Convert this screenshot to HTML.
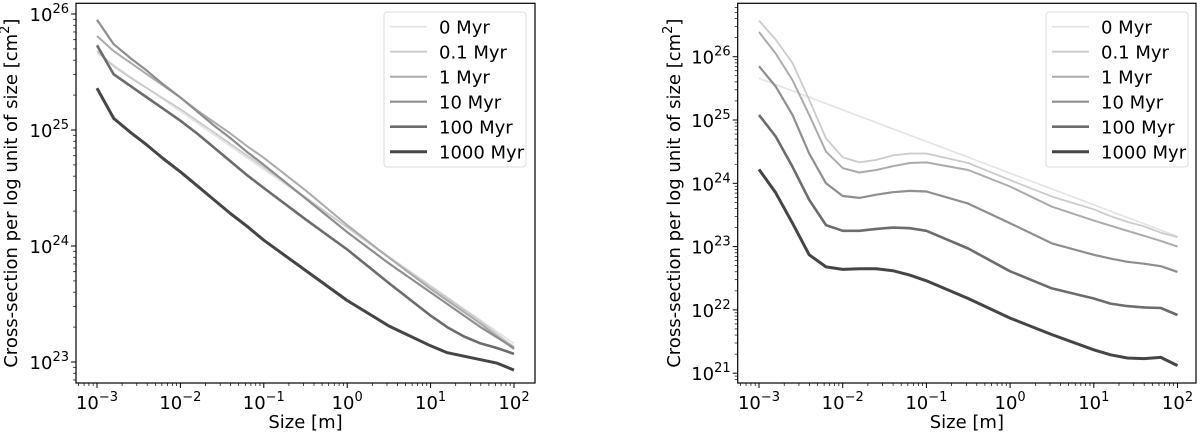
<!DOCTYPE html>
<html><head><meta charset="utf-8"><style>
html,body{margin:0;padding:0;background:#fff;}
svg{display:block;font-family:"DejaVu Sans","Liberation Sans",sans-serif;}
</style></head><body>
<svg id="fig" width="1200" height="433" viewBox="0 0 1200 433" xmlns="http://www.w3.org/2000/svg"></svg>
<script>
// shared x grid (size in m)
const sizes = [1e-3,1.585e-3,2.512e-3,3.981e-3,6.31e-3,1e-2,1.585e-2,2.512e-2,3.981e-2,6.31e-2,0.1,0.3162,1,3.162,10,15.85,25.12,39.81,63.1,100];
const seriesLabels = ["0 Myr","0.1 Myr","1 Myr","10 Myr","100 Myr","1000 Myr"];
// left panel: log10 cross-section values
const left0    = [25.66,25.56,25.46,25.36,25.26,25.16,25.06,24.96,24.86,24.76,24.66,24.41,24.16,23.91,23.66,23.56,23.46,23.36,23.26,23.16];
const left01   = [25.68,25.55,25.45,25.36,25.27,25.18,25.08,24.98,24.88,24.78,24.68,24.42,24.16,23.90,23.65,23.55,23.45,23.35,23.24,23.13];
const left1    = [25.81,25.68,25.58,25.48,25.38,25.28,25.17,25.07,24.97,24.86,24.76,24.48,24.18,23.90,23.63,23.53,23.43,23.33,23.22,23.11];
const left10   = [25.95,25.74,25.62,25.51,25.39,25.28,25.16,25.04,24.93,24.81,24.70,24.41,24.12,23.85,23.60,23.50,23.40,23.30,23.21,23.12];
const left100  = [25.73,25.48,25.38,25.28,25.18,25.08,24.97,24.85,24.73,24.61,24.50,24.23,23.97,23.68,23.40,23.30,23.22,23.16,23.12,23.07];
const left1000 = [25.36,25.10,24.98,24.87,24.75,24.64,24.52,24.40,24.28,24.17,24.05,23.79,23.53,23.31,23.14,23.08,23.05,23.02,22.99,22.93];
// right panel
const right0    = [25.66,25.56,25.46,25.36,25.26,25.16,25.06,24.96,24.86,24.76,24.66,24.41,24.16,23.91,23.66,23.56,23.46,23.36,23.26,23.16];
const right01   = [26.57,26.27,25.90,25.32,24.71,24.41,24.33,24.37,24.44,24.47,24.47,24.32,24.05,23.79,23.59,23.48,23.39,23.32,23.22,23.15];
const right1    = [26.39,26.05,25.63,25.08,24.50,24.24,24.17,24.21,24.27,24.32,24.33,24.21,23.95,23.63,23.41,23.33,23.25,23.17,23.09,23.00];
const right10   = [25.85,25.53,25.08,24.47,24.00,23.80,23.77,23.82,23.86,23.88,23.87,23.68,23.37,23.05,22.87,22.81,22.76,22.73,22.69,22.60];
const right100  = [25.08,24.74,24.26,23.74,23.34,23.25,23.25,23.28,23.30,23.29,23.25,22.97,22.61,22.34,22.18,22.10,22.06,22.04,22.03,21.92];
const right1000 = [24.22,23.85,23.37,22.87,22.68,22.64,22.65,22.65,22.62,22.55,22.46,22.18,21.87,21.61,21.37,21.29,21.24,21.23,21.25,21.12];
const xTickExps = [-3,-2,-1,0,1,2];
const leftYTickExps = [23,24,25,26];
const rightYTickExps = [21,22,23,24,25,26];

const colors=["#e3e3e3","#cbcbcb","#ababab","#8e8e8e","#6c6c6c","#454545"];
const widths=[1.6,1.8,2.0,2.2,2.6,3.0];
const NS="http://www.w3.org/2000/svg";
const svg=document.getElementById('fig');
function mk(tag,attrs,parent){const e=document.createElementNS(NS,tag);for(const k in attrs)e.setAttribute(k,attrs[k]);(parent||svg).appendChild(e);return e;}

function panel(cfg,data,yTicks,name){
  const g=mk('g',{});
  
  
  const X=v=>cfg.x0+(Math.log10(v)+3)*cfg.dx;
  const Y=l=>cfg.y0+(26-l)*cfg.dy;
  for(let d=-4;d<=2;d++)for(let m=1;m<10;m++){const lv=d+Math.log10(m);const px=cfg.x0+(lv+3)*cfg.dx;if(px<cfg.L||px>cfg.R)continue;
    const t=mk('line',{x1:px,x2:px,y1:cfg.B,y2:cfg.B+(m==1?5:3),stroke:'#000','stroke-width':m==1?1:0.7},g);
    }
  for(let d=19;d<=27;d++)for(let m=1;m<10;m++){const lv=d+Math.log10(m);const py=Y(lv);if(py<cfg.T||py>cfg.B)continue;
    const t=mk('line',{x1:cfg.L,x2:cfg.L-(m==1?5:3),y1:py,y2:py,stroke:'#000','stroke-width':m==1?1:0.7},g);
    }
  xTickExps.forEach(e=>{const t=mk('text',{x:X(Math.pow(10,e)),y:cfg.B+26,'text-anchor':'middle','font-size':18},g);
    
    t.innerHTML='10<tspan dy="-8" font-size="13">'+(e<0?'\u2212'+(-e):e)+'</tspan>';});
  yTicks.forEach(e=>{const t=mk('text',{x:cfg.L-7,y:Y(e)+7,'text-anchor':'end','font-size':18},g);
    
    t.innerHTML='10<tspan dy="-8" font-size="13">'+e+'</tspan>';});
  const xl=mk('text',{x:(cfg.L+cfg.R)/2,y:428,'text-anchor':'middle','font-size':18},g);
  xl.textContent='Size [m]';
  const yl=mk('text',{x:0,y:0,'text-anchor':'middle','font-size':18,transform:`translate(${cfg.yl},${(cfg.T+cfg.B)/2}) rotate(-90)`},g);
  
  yl.innerHTML='Cross-section per log unit of size [cm<tspan dy="-8" font-size="13">2</tspan><tspan dy="8">]</tspan>';
  const clip=mk('clipPath',{id:'c'+name},g);mk('rect',{x:cfg.L,y:cfg.T,width:cfg.R-cfg.L,height:cfg.B-cfg.T},clip);
  data.forEach((arr,i)=>{const pts=arr.map((l,j)=>X(sizes[j]).toFixed(1)+','+Y(l).toFixed(1)).join(' ');
    const p=mk('polyline',{points:pts,fill:'none',stroke:colors[i],'stroke-width':widths[i],'stroke-linejoin':'round','clip-path':`url(#c${name})`},g);
    });
  const fr=mk('rect',{x:cfg.L,y:cfg.T,width:cfg.R-cfg.L,height:cfg.B-cfg.T,fill:'none',stroke:'#000','stroke-width':1.2},g);
  
  const lg=mk('g',{},g);
  mk('rect',{x:cfg.lgx,y:12,width:142,height:155,rx:3,fill:'#fff',stroke:'#ddd','stroke-width':1},lg);
  seriesLabels.forEach((s,i)=>{const yy=26.7+i*25;
    mk('line',{x1:cfg.lgx+6,x2:cfg.lgx+43,y1:yy,y2:yy,stroke:colors[i],'stroke-width':widths[i]},lg);
    const t=mk('text',{x:cfg.lgx+55,y:yy+7,'font-size':18},lg);
    t.textContent=s;});
}
panel({L:76,R:535,T:3.3,B:383,x0:97,dx:83.4,y0:14,dy:116,yl:17,lgx:384},[left0,left01,left1,left10,left100,left1000],leftYTickExps,'left-panel');
panel({L:737.7,R:1196,T:3.3,B:383,x0:759,dx:83.7,y0:56.7,dy:63.3,yl:680,lgx:1046},[right0,right01,right1,right10,right100,right1000],rightYTickExps,'right-panel');
</script>
</body></html>
